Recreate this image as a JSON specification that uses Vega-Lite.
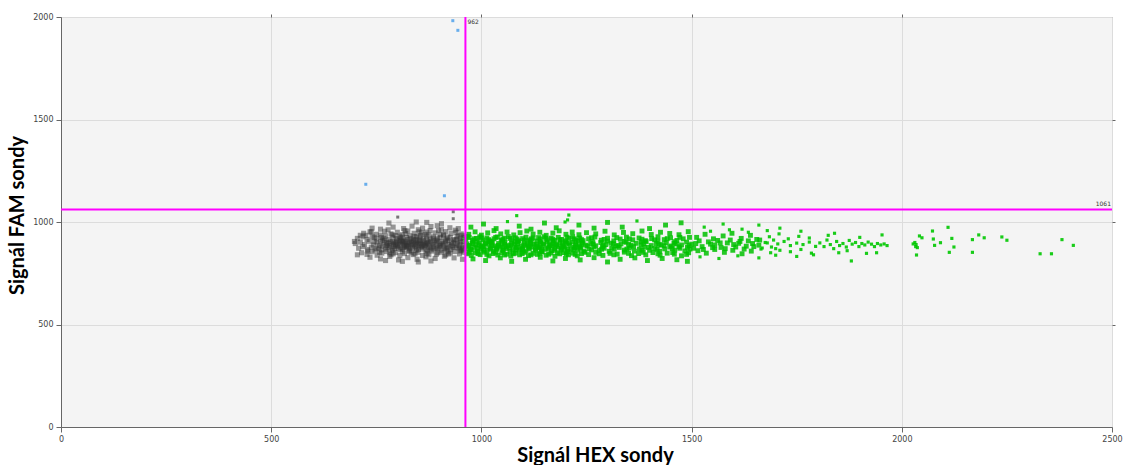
{
"$schema": "https://vega.github.io/schema/vega-lite/v6.json",
"width": 1051,
"height": 410,
"autosize": {"type": "none"},
"padding": {"left": 61, "top": 17, "right": 12, "bottom": 38},
"background": "white",
"config": {
  "view": {"fill": "#f4f4f4", "stroke": "#8a8a8a", "strokeWidth": 1},
  "axis": {"labelFont": "DejaVu Sans", "labelFontSize": 8, "labelColor": "#444444", "labelFlush": false, "format": "d", "domainColor": "#666666", "tickColor": "#666666", "tickSize": 5, "gridColor": "#dcdcdc", "gridWidth": 1, "titleFont": "Lato", "titleFontWeight": "bold", "titleFontSize": 20, "titleColor": "#000000"}
},
"datasets": {
"thr": [{"hex": 962, "fam": 1061, "hl": "962", "fl": "1061", "xmax": 2500, "ymax": 2000}],
"fam": [{"x":932,"y":1982},{"x":944,"y":1935},{"x":725,"y":1184},{"x":912,"y":1128}],
"negs": [{"x":801,"y":1024},{"x":933,"y":1016},{"x":933,"y":1050}],
"neg": [
{"x":780,"y":995},{"x":845,"y":1000},{"x":905,"y":992},{"x":870,"y":998},
{"x":760,"y":965},{"x":790,"y":975},{"x":815,"y":968},{"x":835,"y":980},{"x":860,"y":970},{"x":880,"y":978},{"x":905,"y":965},{"x":925,"y":972},{"x":945,"y":968},{"x":740,"y":970},{"x":850,"y":962},{"x":895,"y":982},
{"x":720,"y":945},{"x":735,"y":952},{"x":750,"y":940},{"x":770,"y":955},{"x":785,"y":942},{"x":800,"y":950},{"x":812,"y":938},{"x":825,"y":956},{"x":840,"y":945},{"x":852,"y":952},{"x":866,"y":940},{"x":878,"y":958},{"x":890,"y":947},{"x":902,"y":940},{"x":915,"y":953},{"x":928,"y":945},{"x":940,"y":950},{"x":952,"y":942},{"x":760,"y":936},{"x":820,"y":944},{"x":870,"y":951},{"x":910,"y":938},
{"x":705,"y":920},{"x":718,"y":928},{"x":728,"y":915},{"x":740,"y":930},{"x":750,"y":918},{"x":762,"y":925},{"x":772,"y":932},{"x":780,"y":914},{"x":790,"y":926},{"x":798,"y":919},{"x":806,"y":931},{"x":814,"y":912},{"x":822,"y":924},{"x":830,"y":933},{"x":838,"y":917},{"x":846,"y":928},{"x":854,"y":911},{"x":862,"y":922},{"x":870,"y":930},{"x":878,"y":916},{"x":886,"y":927},{"x":894,"y":913},{"x":902,"y":925},{"x":910,"y":932},{"x":918,"y":918},{"x":926,"y":924},{"x":934,"y":914},{"x":942,"y":929},{"x":950,"y":920},{"x":958,"y":926},{"x":765,"y":912},{"x":795,"y":934},{"x":825,"y":915},{"x":855,"y":934},{"x":885,"y":920},{"x":915,"y":912},{"x":945,"y":934},{"x":810,"y":922},{"x":840,"y":930},{"x":870,"y":913},
{"x":700,"y":895},{"x":712,"y":902},{"x":722,"y":890},{"x":733,"y":906},{"x":743,"y":888},{"x":752,"y":898},{"x":760,"y":907},{"x":768,"y":892},{"x":775,"y":900},{"x":782,"y":887},{"x":789,"y":905},{"x":795,"y":894},{"x":801,"y":909},{"x":807,"y":889},{"x":813,"y":899},{"x":819,"y":906},{"x":825,"y":891},{"x":831,"y":902},{"x":837,"y":886},{"x":843,"y":897},{"x":849,"y":908},{"x":855,"y":893},{"x":861,"y":903},{"x":867,"y":888},{"x":873,"y":899},{"x":880,"y":906},{"x":887,"y":891},{"x":894,"y":902},{"x":901,"y":887},{"x":908,"y":897},{"x":915,"y":905},{"x":922,"y":890},{"x":929,"y":900},{"x":936,"y":908},{"x":943,"y":893},{"x":950,"y":902},{"x":957,"y":888},{"x":778,"y":896},{"x":798,"y":903},{"x":816,"y":893},{"x":834,"y":908},{"x":852,"y":886},{"x":870,"y":894},{"x":890,"y":908},{"x":910,"y":892},{"x":930,"y":886},{"x":948,"y":909},{"x":805,"y":897},{"x":828,"y":897},{"x":846,"y":903},{"x":864,"y":897},{"x":818,"y":887},{"x":792,"y":899},{"x":840,"y":891},{"x":876,"y":889},{"x":904,"y":905},{"x":800,"y":884},
{"x":708,"y":872},{"x":718,"y":880},{"x":729,"y":866},{"x":738,"y":877},{"x":747,"y":863},{"x":756,"y":874},{"x":764,"y":882},{"x":772,"y":868},{"x":780,"y":876},{"x":787,"y":861},{"x":794,"y":871},{"x":801,"y":879},{"x":808,"y":865},{"x":815,"y":875},{"x":822,"y":883},{"x":829,"y":862},{"x":836,"y":872},{"x":843,"y":880},{"x":850,"y":866},{"x":857,"y":876},{"x":864,"y":884},{"x":871,"y":863},{"x":878,"y":873},{"x":885,"y":881},{"x":892,"y":867},{"x":899,"y":877},{"x":906,"y":862},{"x":913,"y":870},{"x":920,"y":880},{"x":927,"y":865},{"x":934,"y":875},{"x":941,"y":883},{"x":948,"y":868},{"x":955,"y":877},{"x":775,"y":885},{"x":812,"y":869},{"x":846,"y":873},{"x":880,"y":865},{"x":918,"y":874},{"x":952,"y":862},{"x":790,"y":880},{"x":825,"y":870},{"x":860,"y":868},{"x":895,"y":872},
{"x":715,"y":850},{"x":728,"y":842},{"x":740,"y":855},{"x":752,"y":838},{"x":763,"y":848},{"x":774,"y":856},{"x":785,"y":840},{"x":796,"y":851},{"x":806,"y":836},{"x":817,"y":846},{"x":828,"y":857},{"x":838,"y":841},{"x":849,"y":852},{"x":860,"y":837},{"x":871,"y":847},{"x":882,"y":858},{"x":893,"y":843},{"x":904,"y":853},{"x":915,"y":839},{"x":926,"y":849},{"x":937,"y":856},{"x":948,"y":844},{"x":958,"y":852},{"x":790,"y":845},{"x":833,"y":850},{"x":875,"y":840},{"x":920,"y":857},
{"x":735,"y":828},{"x":760,"y":820},{"x":782,"y":832},{"x":803,"y":815},{"x":825,"y":826},{"x":847,"y":818},{"x":868,"y":830},{"x":890,"y":822},{"x":912,"y":833},{"x":935,"y":825},{"x":955,"y":818},{"x":812,"y":808},{"x":850,"y":805},{"x":772,"y":812},{"x":880,"y":810},{"x":698,"y":905},{"x":712,"y":935},{"x":705,"y":840},
{"x":745,"y":905},{"x":757,"y":886},{"x":770,"y":909},{"x":783,"y":903},{"x":796,"y":888},{"x":809,"y":906},{"x":821,"y":900},{"x":834,"y":893},{"x":847,"y":889},{"x":859,"y":910},{"x":872,"y":904},{"x":884,"y":897},{"x":897,"y":894},{"x":909,"y":884},{"x":921,"y":908},{"x":934,"y":897},{"x":947,"y":886},{"x":959,"y":905},
{"x":750,"y":870},{"x":762,"y":864},{"x":776,"y":878},{"x":789,"y":867},{"x":803,"y":873},{"x":818,"y":881},{"x":832,"y":877},{"x":845,"y":862},{"x":858,"y":881},{"x":873,"y":878},{"x":887,"y":873},{"x":902,"y":882},{"x":916,"y":864},{"x":931,"y":879},{"x":945,"y":873},{"x":958,"y":868},
{"x":725,"y":935},{"x":745,"y":925},{"x":768,"y":920},{"x":788,"y":938},{"x":808,"y":925},{"x":832,"y":920},{"x":852,"y":926},{"x":875,"y":937},{"x":896,"y":920},{"x":920,"y":927},{"x":940,"y":914},{"x":957,"y":935},
{"x":730,"y":858},{"x":758,"y":852},{"x":782,"y":850},{"x":812,"y":855},{"x":842,"y":845},{"x":868,"y":856},{"x":896,"y":850},{"x":922,"y":844},{"x":950,"y":858},
{"x":738,"y":952},{"x":778,"y":962},{"x":818,"y":958},{"x":858,"y":948},{"x":898,"y":958},{"x":938,"y":960},
{"x":790,"y":892},{"x":812,"y":904},{"x":826,"y":884},{"x":838,"y":906},{"x":852,"y":898},{"x":866,"y":882},{"x":806,"y":912},{"x":822,"y":878},{"x":844,"y":914},{"x":860,"y":890}
],
"hex": [
{"x":965,"y":893},{"x":972,"y":886},{"x":980,"y":901},{"x":987,"y":889},{"x":995,"y":897},{"x":1003,"y":884},{"x":1010,"y":899},{"x":1018,"y":891},{"x":1026,"y":903},{"x":1033,"y":882},{"x":1041,"y":895},{"x":1049,"y":888},{"x":1056,"y":900},{"x":1064,"y":885},{"x":1072,"y":896},{"x":1079,"y":890},{"x":1087,"y":904},{"x":1095,"y":883},{"x":1102,"y":894},{"x":1110,"y":887},{"x":1118,"y":899},{"x":1125,"y":892},{"x":1133,"y":881},{"x":1141,"y":897},{"x":1148,"y":889},{"x":1156,"y":902},{"x":1164,"y":885},{"x":1171,"y":895},{"x":1179,"y":890},{"x":1187,"y":900},{"x":1194,"y":884},{"x":1202,"y":896},{"x":1210,"y":888},{"x":1217,"y":903},{"x":1225,"y":893},{"x":1233,"y":882},{"x":1240,"y":898},{"x":1248,"y":887},{"x":1260,"y":895},{"x":1272,"y":884},{"x":1284,"y":900},{"x":1296,"y":890},{"x":1308,"y":897},{"x":1320,"y":883},{"x":1332,"y":893},{"x":1344,"y":901},{"x":1356,"y":886},{"x":1368,"y":896},{"x":1380,"y":889},{"x":1392,"y":904},{"x":1404,"y":885},{"x":1416,"y":895},{"x":1428,"y":890},{"x":1440,"y":899},{"x":1452,"y":883},{"x":1464,"y":893},{"x":1476,"y":888},{"x":1488,"y":902},{"x":1500,"y":892},
{"x":968,"y":870},{"x":976,"y":862},{"x":983,"y":876},{"x":991,"y":858},{"x":999,"y":868},{"x":1006,"y":879},{"x":1014,"y":864},{"x":1022,"y":873},{"x":1029,"y":857},{"x":1037,"y":867},{"x":1045,"y":877},{"x":1052,"y":861},{"x":1060,"y":871},{"x":1068,"y":856},{"x":1075,"y":866},{"x":1083,"y":878},{"x":1091,"y":862},{"x":1098,"y":872},{"x":1106,"y":859},{"x":1114,"y":869},{"x":1121,"y":878},{"x":1129,"y":863},{"x":1137,"y":874},{"x":1144,"y":857},{"x":1152,"y":867},{"x":1160,"y":877},{"x":1167,"y":860},{"x":1175,"y":870},{"x":1183,"y":879},{"x":1190,"y":864},{"x":1198,"y":873},{"x":1206,"y":856},{"x":1213,"y":868},{"x":1221,"y":877},{"x":1229,"y":862},{"x":1236,"y":871},{"x":1244,"y":858},{"x":1256,"y":869},{"x":1268,"y":878},{"x":1280,"y":861},{"x":1292,"y":872},{"x":1304,"y":857},{"x":1316,"y":867},{"x":1328,"y":876},{"x":1340,"y":863},{"x":1352,"y":873},{"x":1364,"y":858},{"x":1376,"y":868},{"x":1388,"y":877},{"x":1400,"y":862},{"x":1412,"y":871},{"x":1424,"y":857},{"x":1436,"y":869},{"x":1448,"y":878},{"x":1460,"y":863},{"x":1472,"y":872},{"x":1484,"y":859},{"x":1496,"y":868},
{"x":963,"y":915},{"x":971,"y":924},{"x":979,"y":910},{"x":988,"y":920},{"x":996,"y":928},{"x":1004,"y":913},{"x":1013,"y":922},{"x":1021,"y":908},{"x":1030,"y":918},{"x":1038,"y":927},{"x":1047,"y":911},{"x":1055,"y":921},{"x":1064,"y":929},{"x":1072,"y":914},{"x":1081,"y":923},{"x":1089,"y":909},{"x":1098,"y":919},{"x":1106,"y":926},{"x":1115,"y":912},{"x":1123,"y":922},{"x":1132,"y":907},{"x":1140,"y":917},{"x":1149,"y":928},{"x":1157,"y":913},{"x":1166,"y":921},{"x":1174,"y":910},{"x":1183,"y":925},{"x":1191,"y":915},{"x":1200,"y":908},{"x":1208,"y":920},{"x":1217,"y":929},{"x":1225,"y":912},{"x":1234,"y":922},{"x":1242,"y":909},{"x":1255,"y":918},{"x":1270,"y":927},{"x":1285,"y":911},{"x":1300,"y":921},{"x":1315,"y":908},{"x":1330,"y":917},{"x":1345,"y":926},{"x":1360,"y":913},{"x":1375,"y":922},{"x":1390,"y":909},{"x":1405,"y":919},{"x":1420,"y":928},{"x":1435,"y":914},{"x":1450,"y":923},{"x":1465,"y":910},{"x":1480,"y":918},{"x":1495,"y":925},
{"x":966,"y":845},{"x":976,"y":837},{"x":986,"y":850},{"x":997,"y":841},{"x":1007,"y":853},{"x":1018,"y":835},{"x":1028,"y":846},{"x":1039,"y":839},{"x":1049,"y":851},{"x":1060,"y":843},{"x":1070,"y":834},{"x":1081,"y":848},{"x":1091,"y":840},{"x":1102,"y":852},{"x":1112,"y":836},{"x":1123,"y":847},{"x":1133,"y":842},{"x":1144,"y":854},{"x":1154,"y":838},{"x":1165,"y":849},{"x":1175,"y":833},{"x":1186,"y":845},{"x":1196,"y":851},{"x":1207,"y":840},{"x":1217,"y":848},{"x":1228,"y":835},{"x":1238,"y":846},{"x":1255,"y":841},{"x":1272,"y":852},{"x":1289,"y":837},{"x":1306,"y":847},{"x":1323,"y":843},{"x":1340,"y":853},{"x":1357,"y":836},{"x":1374,"y":846},{"x":1391,"y":840},{"x":1408,"y":851},{"x":1425,"y":838},{"x":1442,"y":848},{"x":1459,"y":843},{"x":1476,"y":835},{"x":1493,"y":850},
{"x":970,"y":940},{"x":985,"y":952},{"x":1000,"y":936},{"x":1015,"y":947},{"x":1030,"y":958},{"x":1046,"y":942},{"x":1061,"y":951},{"x":1077,"y":937},{"x":1092,"y":948},{"x":1108,"y":956},{"x":1123,"y":941},{"x":1139,"y":950},{"x":1154,"y":935},{"x":1170,"y":946},{"x":1185,"y":957},{"x":1201,"y":940},{"x":1216,"y":951},{"x":1232,"y":938},{"x":1250,"y":948},{"x":1272,"y":942},{"x":1294,"y":955},{"x":1316,"y":937},{"x":1338,"y":949},{"x":1360,"y":943},{"x":1382,"y":956},{"x":1404,"y":939},{"x":1426,"y":950},{"x":1448,"y":944},{"x":1470,"y":938},{"x":1492,"y":953},
{"x":975,"y":975},{"x":1005,"y":990},{"x":1035,"y":968},{"x":1090,"y":980},{"x":1118,"y":965},{"x":1150,"y":995},{"x":1178,"y":972},{"x":1232,"y":985},{"x":1268,"y":970},{"x":1300,"y":998},{"x":1335,"y":975},{"x":1400,"y":968},{"x":1438,"y":985},{"x":1475,"y":996},
{"x":980,"y":820},{"x":1010,"y":812},{"x":1045,"y":825},{"x":1072,"y":808},{"x":1105,"y":818},{"x":1140,"y":828},{"x":1170,"y":810},{"x":1200,"y":822},{"x":1235,"y":815},{"x":1268,"y":826},{"x":1300,"y":805},{"x":1330,"y":818},{"x":1365,"y":825},{"x":1395,"y":812},{"x":1430,"y":822},{"x":1465,"y":816},{"x":1490,"y":808},
{"x":969,"y":882},{"x":1000,"y":878},{"x":1025,"y":885},{"x":1058,"y":880},{"x":1085,"y":874},{"x":1112,"y":881},{"x":1140,"y":877},{"x":1168,"y":884},{"x":1196,"y":879},{"x":1223,"y":875},{"x":1252,"y":883},{"x":1288,"y":879},{"x":1325,"y":885},{"x":1362,"y":880},{"x":1398,"y":876},{"x":1434,"y":884},{"x":1470,"y":879},{"x":990,"y":907},{"x":1020,"y":904},{"x":1050,"y":907},{"x":1080,"y":905},{"x":1110,"y":906},{"x":1140,"y":904},{"x":1170,"y":907},{"x":1200,"y":903},{"x":1230,"y":906},{"x":1265,"y":904},{"x":1300,"y":907},{"x":1340,"y":905},{"x":1380,"y":903},{"x":1420,"y":906},{"x":1460,"y":904},
{"x":978,"y":895},{"x":994,"y":887},{"x":1009,"y":893},{"x":1024,"y":896},{"x":1040,"y":886},{"x":1055,"y":892},{"x":1070,"y":889},{"x":1086,"y":895},{"x":1101,"y":886},{"x":1116,"y":893},{"x":1131,"y":889},{"x":1147,"y":894},{"x":1162,"y":892},{"x":1177,"y":886},{"x":1193,"y":893},{"x":1208,"y":897},{"x":1224,"y":887},{"x":1239,"y":891},{"x":1266,"y":892},{"x":1290,"y":887},{"x":1314,"y":893},{"x":1350,"y":891},{"x":1386,"y":894},{"x":1422,"y":887},{"x":1458,"y":896},{"x":1494,"y":885},
{"x":974,"y":866},{"x":990,"y":871},{"x":1005,"y":862},{"x":1021,"y":868},{"x":1036,"y":874},{"x":1051,"y":866},{"x":1067,"y":874},{"x":1082,"y":864},{"x":1097,"y":866},{"x":1113,"y":876},{"x":1128,"y":868},{"x":1143,"y":866},{"x":1159,"y":871},{"x":1174,"y":862},{"x":1189,"y":872},{"x":1205,"y":866},{"x":1220,"y":864},{"x":1235,"y":877},{"x":1262,"y":864},{"x":1286,"y":867},{"x":1310,"y":873},{"x":1346,"y":868},{"x":1382,"y":862},{"x":1418,"y":866},{"x":1454,"y":871},{"x":1490,"y":876},
{"x":967,"y":930},{"x":983,"y":918},{"x":1000,"y":922},{"x":1017,"y":914},{"x":1034,"y":925},{"x":1051,"y":916},{"x":1068,"y":920},{"x":1085,"y":917},{"x":1102,"y":911},{"x":1119,"y":918},{"x":1136,"y":924},{"x":1153,"y":920},{"x":1170,"y":916},{"x":1187,"y":913},{"x":1204,"y":926},{"x":1221,"y":918},{"x":1238,"y":914},{"x":1262,"y":923},{"x":1292,"y":915},{"x":1322,"y":924},{"x":1352,"y":918},{"x":1382,"y":916},{"x":1412,"y":913},{"x":1442,"y":919},{"x":1472,"y":925},
{"x":971,"y":852},{"x":992,"y":846},{"x":1013,"y":842},{"x":1034,"y":852},{"x":1055,"y":839},{"x":1076,"y":845},{"x":1097,"y":846},{"x":1118,"y":840},{"x":1139,"y":848},{"x":1160,"y":843},{"x":1181,"y":850},{"x":1202,"y":845},{"x":1223,"y":842},{"x":1246,"y":852},{"x":1280,"y":845},{"x":1315,"y":840},{"x":1350,"y":847},{"x":1385,"y":852},{"x":1420,"y":845},{"x":1455,"y":851},{"x":1488,"y":842},
{"x":1510,"y":895},{"x":1525,"y":880},{"x":1540,"y":903},{"x":1555,"y":888},{"x":1570,"y":876},{"x":1585,"y":898},{"x":1600,"y":890},{"x":1615,"y":905},{"x":1630,"y":882},{"x":1645,"y":895},{"x":1660,"y":887},
{"x":1515,"y":860},{"x":1535,"y":848},{"x":1555,"y":866},{"x":1578,"y":852},{"x":1598,"y":862},{"x":1620,"y":845},{"x":1642,"y":858},
{"x":1512,"y":925},{"x":1532,"y":940},{"x":1552,"y":918},{"x":1575,"y":932},{"x":1596,"y":945},{"x":1618,"y":920},{"x":1640,"y":935},{"x":1662,"y":912},
{"x":1505,"y":872},{"x":1518,"y":908},{"x":1528,"y":866},{"x":1545,"y":892},{"x":1550,"y":875},{"x":1562,"y":910},{"x":1568,"y":898},{"x":1580,"y":870},{"x":1592,"y":912},{"x":1605,"y":878},{"x":1612,"y":896},{"x":1625,"y":868},{"x":1635,"y":908},{"x":1648,"y":880},{"x":1655,"y":915}
],
"hexs": [
{"x":1062,"y":1002},{"x":1205,"y":1010},{"x":1084,"y":1031},{"x":1208,"y":1034},{"x":1199,"y":1000},{"x":1370,"y":1005},
{"x":1675,"y":900},{"x":1690,"y":878},{"x":1705,"y":893},{"x":1720,"y":905},{"x":1735,"y":885},{"x":1750,"y":897},{"x":1765,"y":890},{"x":1780,"y":902},{"x":1795,"y":881},
{"x":1665,"y":868},{"x":1688,"y":850},{"x":1710,"y":862},{"x":1735,"y":855},{"x":1760,"y":866},{"x":1785,"y":848},
{"x":1685,"y":928},{"x":1708,"y":942},{"x":1730,"y":918},{"x":1755,"y":930},{"x":1780,"y":922},
{"x":1530,"y":975},{"x":1575,"y":990},{"x":1620,"y":965},{"x":1660,"y":985},{"x":1710,"y":970},{"x":1760,"y":955},
{"x":1520,"y":830},{"x":1565,"y":822},{"x":1610,"y":835},{"x":1660,"y":825},{"x":1700,"y":838},{"x":1750,"y":832},{"x":1790,"y":840},
{"x":1668,"y":873},{"x":1680,"y":898},{"x":1695,"y":912},{"x":1700,"y":870},{"x":1545,"y":955},{"x":1590,"y":962},{"x":1635,"y":950},{"x":1680,"y":958},
{"x":1805,"y":898},{"x":1815,"y":880},{"x":1822,"y":912},{"x":1830,"y":890},{"x":1838,"y":870},{"x":1845,"y":905},{"x":1852,"y":885},{"x":1860,"y":895},{"x":1868,"y":878},{"x":1875,"y":910},{"x":1880,"y":810},{"x":1882,"y":892},{"x":1890,"y":900},{"x":1898,"y":880},{"x":1905,"y":895},{"x":1912,"y":888},{"x":1920,"y":902},{"x":1928,"y":892},{"x":1935,"y":880},{"x":1942,"y":895},{"x":1950,"y":888},{"x":1958,"y":893},{"x":1965,"y":885},{"x":1870,"y":860},{"x":1850,"y":850},{"x":1825,"y":935},{"x":1900,"y":925},{"x":1840,"y":945},{"x":1953,"y":937},{"x":1916,"y":847},{"x":1940,"y":850},
{"x":2027,"y":893},{"x":2031,"y":900},{"x":2034,"y":890},{"x":2033,"y":880},{"x":2037,"y":875},{"x":2035,"y":839},{"x":2042,"y":932},{"x":2048,"y":923},{"x":2073,"y":956},{"x":2075,"y":917},{"x":2078,"y":886},{"x":2092,"y":899},{"x":2110,"y":974},{"x":2119,"y":920},{"x":2124,"y":878},{"x":2113,"y":852},{"x":2168,"y":914},{"x":2168,"y":852},{"x":2183,"y":937},{"x":2196,"y":923},{"x":2238,"y":927},{"x":2250,"y":911},{"x":2329,"y":845},{"x":2356,"y":845},{"x":2381,"y":914},{"x":2408,"y":886}
]
},
"resolve": {"axis": {"x": "independent", "y": "independent"}},
"layer": [
  {
    "data": {"name": "neg"},
    "mark": {"type": "square", "size": 26, "color": "#333333", "opacity": 0.5},
    "encoding": {
      "x": {"field": "x", "type": "quantitative", "scale": {"domain": [0, 2500], "nice": false, "zero": false},
        "axis": {"values": [0, 500, 1000, 1500, 2000, 2500], "grid": true, "labelPadding": 3, "title": "Signál HEX sondy", "titleX": 534, "titleY": 34, "titleAlign": "center", "titleBaseline": "alphabetic"}},
      "y": {"field": "y", "type": "quantitative", "scale": {"domain": [0, 2000], "nice": false, "zero": false},
        "axis": {"values": [0, 500, 1000, 1500, 2000], "grid": true, "labelPadding": 3, "title": "Signál FAM sondy", "titleX": -44, "titleY": 198, "titleAngle": 270, "titleAlign": "center", "titleBaseline": "middle"}}
    }
  },
  {
    "data": {"name": "negs"},
    "mark": {"type": "square", "size": 9, "color": "#555555", "opacity": 0.8},
    "encoding": {
      "x": {"field": "x", "type": "quantitative", "axis": null},
      "y": {"field": "y", "type": "quantitative", "axis": null}
    }
  },
  {
    "data": {"name": "hex"},
    "mark": {"type": "square", "size": 24, "color": "#00c000", "opacity": 0.85},
    "encoding": {
      "x": {"field": "x", "type": "quantitative", "axis": null},
      "y": {"field": "y", "type": "quantitative", "axis": null}
    }
  },
  {
    "data": {"name": "hexs"},
    "mark": {"type": "square", "size": 10, "color": "#00c800", "opacity": 0.9},
    "encoding": {
      "x": {"field": "x", "type": "quantitative", "axis": null},
      "y": {"field": "y", "type": "quantitative", "axis": null}
    }
  },
  {
    "data": {"name": "fam"},
    "mark": {"type": "square", "size": 9, "color": "#2b8fe8"},
    "encoding": {
      "x": {"field": "x", "type": "quantitative", "axis": null},
      "y": {"field": "y", "type": "quantitative", "axis": null}
    }
  },
  {
    "data": {"name": "thr"},
    "mark": {"type": "rule", "color": "#ff00ff", "strokeWidth": 2},
    "encoding": {
      "x": {"field": "hex", "type": "quantitative", "axis": {"orient": "top", "values": [500, 1000, 1500, 2000], "labels": false, "grid": false, "domain": false, "title": null, "tickSize": 3}}
    }
  },
  {
    "data": {"name": "thr"},
    "mark": {"type": "rule", "color": "#ff00ff", "strokeWidth": 2},
    "encoding": {
      "y": {"field": "fam", "type": "quantitative", "axis": {"orient": "right", "values": [500, 1000, 1500], "labels": false, "grid": false, "domain": false, "title": null, "tickSize": 3}}
    }
  },
  {
    "data": {"name": "thr"},
    "mark": {"type": "text", "align": "left", "baseline": "top", "dx": 2, "dy": 2, "fontSize": 6, "font": "DejaVu Sans", "color": "#333333"},
    "encoding": {
      "x": {"field": "hex", "type": "quantitative", "axis": null},
      "y": {"field": "ymax", "type": "quantitative", "axis": null},
      "text": {"field": "hl"}
    }
  },
  {
    "data": {"name": "thr"},
    "mark": {"type": "text", "align": "right", "baseline": "bottom", "dx": -1, "dy": -2, "fontSize": 6, "font": "DejaVu Sans", "color": "#333333"},
    "encoding": {
      "x": {"field": "xmax", "type": "quantitative", "axis": null},
      "y": {"field": "fam", "type": "quantitative", "axis": null},
      "text": {"field": "fl"}
    }
  }
]
}
